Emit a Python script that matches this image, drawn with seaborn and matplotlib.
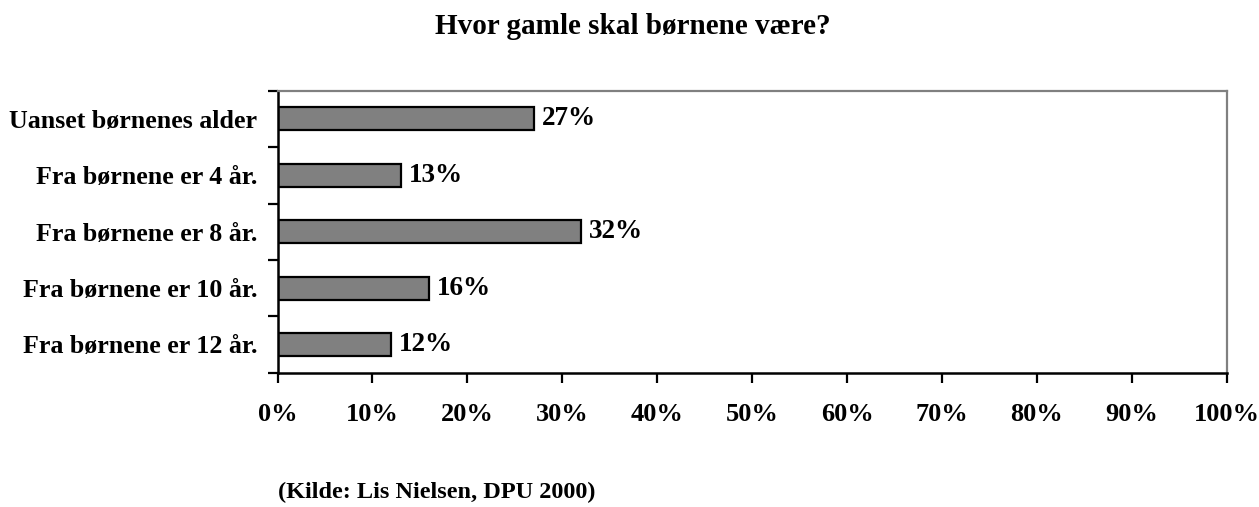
import numpy as np
import pandas as pd
import matplotlib
matplotlib.use("Agg")
import matplotlib.pyplot as plt
import seaborn as sns

categories = ["Uanset børnenes alder", "Fra børnene er 4 år.", "Fra børnene er 8 år.",
              "Fra børnene er 10 år.", "Fra børnene er 12 år."]
values = [27, 13, 32, 16, 12]
xticks = [0, 10, 20, 30, 40, 50, 60, 70, 80, 90, 100]

sns.set_theme(style="white")
plt.rcParams['font.family'] = ['Liberation Serif', 'DejaVu Serif']
plt.rcParams['font.weight'] = 'bold'
plt.rcParams['text.color'] = 'black'
plt.rcParams['xtick.color'] = 'black'
plt.rcParams['ytick.color'] = 'black'

df = pd.DataFrame({"kategori": categories, "andel": values})

fig = plt.figure(figsize=(12.59, 5.07), dpi=100)
ax = fig.add_axes([277.5 / 1259, 1 - 372.7 / 507, (1226.7 - 277.5) / 1259, (372.7 - 90.7) / 507])

sns.barplot(data=df, x="andel", y="kategori", color="#808080", saturation=1,
            edgecolor="black", linewidth=1.6, width=0.41, ax=ax)

for i, v in enumerate(values):
    ax.text(v + 0.8, i, f"{v}%", va="center", ha="left", fontsize=19.5, fontweight="bold")

ax.set_xlim(0, 100)
ax.set_ylim(4.5, -0.5)
ax.set_xticks(xticks)
ax.set_xticklabels([f"{t}%" for t in xticks], fontsize=19, fontweight="bold")
ax.set_yticks(range(len(categories)))
ax.set_yticklabels(categories, fontsize=18.7, fontweight="bold")
ax.set_yticks(np.arange(-0.5, len(categories)), minor=True)
ax.tick_params(axis="y", which="major", length=0, pad=14.5)
ax.tick_params(axis="y", which="minor", length=7, width=1.6, color="black", left=True)
ax.tick_params(axis="x", which="major", length=7, width=1.6, color="black", bottom=True, pad=15)
ax.set_xlabel("")
ax.set_ylabel("")

for side in ["left", "bottom"]:
    ax.spines[side].set_color("black")
    ax.spines[side].set_linewidth(1.8)
for side in ["top", "right"]:
    ax.spines[side].set_color("#808080")
    ax.spines[side].set_linewidth(1.6)

fig.text(633 / 1259, 1 - 27 / 507, "Hvor gamle skal børnene være?", ha="center", va="center",
         fontsize=21, fontweight="bold")
fig.text(278 / 1259, 1 - 492 / 507, "(Kilde: Lis Nielsen, DPU 2000)", ha="left", va="center",
         fontsize=17.5, fontweight="bold")

fig.savefig("out.png", dpi=100, facecolor="white")
